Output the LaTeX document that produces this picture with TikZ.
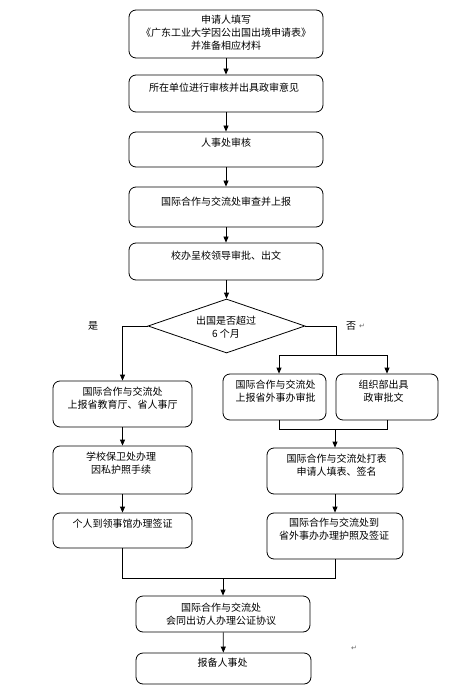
\documentclass[tikz,border=0pt]{standalone}
\usepackage{fontspec}
\newfontfamily\cjk{Noto Sans CJK SC}
\newfontfamily\symf{DejaVu Sans}
\usetikzlibrary{arrows.meta,shapes.geometric}
\begin{document}
\begin{tikzpicture}[x=1pt,y=-1pt,
  box/.style={draw,line width=0.8pt,rounded corners=7pt,inner sep=0pt},
  txt/.style={font=\cjk\fontsize{10}{12.8}\selectfont,align=center,inner sep=0pt},
  ln/.style={line width=0.8pt},
  arr/.style={line width=0.8pt,-{Triangle[length=6pt,width=5pt]}},
  pm/.style={font=\symf\fontsize{7}{8}\selectfont,text=black!60,inner sep=0pt}]
\useasboundingbox[fill=white] (0,0) rectangle (461,700);
% main column boxes
\node[box,minimum width=194pt,minimum height=48pt] (b1) at (226,34) {};
\node[box,minimum width=194pt,minimum height=37pt] (b2) at (226,93.5) {};
\node[box,minimum width=194pt,minimum height=35pt] (b3) at (226,149.5) {};
\node[box,minimum width=194pt,minimum height=40pt] (b4) at (226,207) {};
\node[box,minimum width=194pt,minimum height=37pt] (b5) at (226,261.5) {};
\node[txt] (t1) at (226,33) {申请人填写\\《广东工业大学因公出国出境申请表》\\并准备相应材料};
\node[txt] (t2) at (224,88) {所在单位进行审核并出具政审意见};
\node[txt] (t3) at (226,143) {人事处审核};
\node[txt] (t4) at (226,202) {国际合作与交流处审查并上报};
\node[txt] (t5) at (226,256) {校办呈校领导审批、出文};
% decision
\node[draw,line width=0.8pt,diamond,minimum width=157pt,minimum height=54pt,inner sep=0pt] (d) at (226.5,326) {};
\node[txt] (td) at (226,327.5) {出国是否超过\\6 个月};
\node[txt] (yes) at (93,326) {是};
\node[txt] (no) at (351,326) {否};
\node[pm] (nopm) at (362,326) {↵};
% left branch
\node[box,minimum width=139pt,minimum height=46pt] (l1) at (122.5,404) {};
\node[box,minimum width=139pt,minimum height=48pt] (l2) at (122.5,470) {};
\node[box,minimum width=139pt,minimum height=35pt] (l3) at (122.5,530.5) {};
\node[txt] (tl1) at (122.5,398.5) {国际合作与交流处\\上报省教育厅、省人事厅};
\node[txt] (tl2) at (121,463.5) {学校保卫处办理\\因私护照手续};
\node[txt] (tl3) at (122.5,524) {个人到领事馆办理签证};
% right branch
\node[box,minimum width=103pt,minimum height=46pt] (r1a) at (274.5,397) {};
\node[box,minimum width=102pt,minimum height=46pt] (r1b) at (387,397) {};
\node[box,minimum width=136pt,minimum height=46pt] (r2) at (335,471) {};
\node[box,minimum width=136pt,minimum height=46pt] (r3) at (335,536) {};
\node[txt] (tr1a) at (275.5,391) {国际合作与交流处\\上报省外事办审批};
\node[txt] (tr1b) at (383.5,391) {组织部出具\\政审批文};
\node[txt] (tr2) at (336.5,465.5) {国际合作与交流处打表\\申请人填表、签名};
\node[txt] (tr3) at (334,529) {国际合作与交流处到\\省外事办办理护照及签证};
% bottom
\node[box,minimum width=174pt,minimum height=36pt] (e1) at (223,614) {};
\node[box,minimum width=175pt,minimum height=31pt] (e2) at (223.5,668.5) {};
\node[txt] (te1) at (221,614) {国际合作与交流处\\会同出访人办理公证协议};
\node[txt] (te2) at (222.5,663) {报备人事处};
\node[pm] (endpm) at (354,648) {↵};
% coordinates
\coordinate (rc) at (336,326);
\coordinate (rs1) at (279,355);
\coordinate (rs2) at (387,355);
\coordinate (rm1) at (279,429);
\coordinate (rm2) at (387,429);
\coordinate (rmid) at (335,429);
\coordinate (bl) at (122.5,578);
\coordinate (br) at (335,578);
\coordinate (bmid) at (223,578);
% connectors
\draw[arr] (b1) -- (b2);
\draw[arr] (b2) -- (b3);
\draw[arr] (b3) -- (b4);
\draw[arr] (b4) -- (b5);
\draw[arr] (b5.south -| d.north) -- (d.north);
\draw[arr] (d.west) -| (l1.north);
\draw[ln] (d.east) -- (rc) -- (rc |- rs1);
\draw[ln] (rs1) -- (rs2);
\draw[arr] (rs1) -- (rs1 |- r1a.north);
\draw[arr] (rs2) -- (r1b.north);
\draw[ln] (rm1 |- r1a.south) -- (rm1) -- (rm2) -- (r1b.south);
\draw[arr] (rmid) -- (r2.north);
\draw[arr] (l1) -- (l2);
\draw[arr] (l2) -- (l3);
\draw[arr] (r2) -- (r3);
\draw[ln] (l3.south) -- (bl) -- (br) -- (r3.south);
\draw[arr] (bmid) -- (e1.north);
\draw[arr] (e1) -- (e2);
\end{tikzpicture}
\end{document}
